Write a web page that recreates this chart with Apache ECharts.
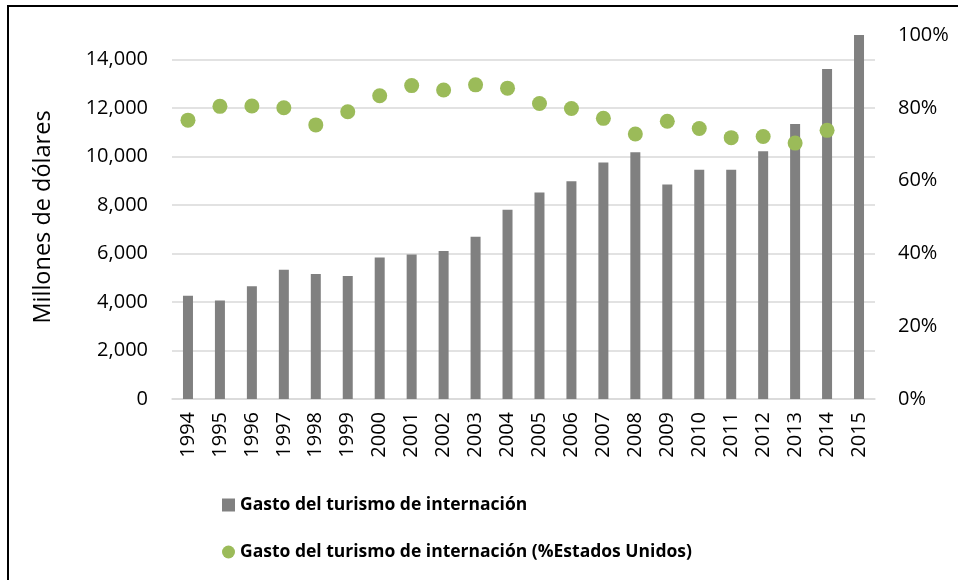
<!DOCTYPE html>
<html>
<head>
<meta charset="utf-8">
<script src="https://cdn.jsdelivr.net/npm/echarts@6/dist/echarts.min.js"></script>
<style>
html,body{margin:0;padding:0;background:#fff;}
#main{width:958px;height:580px;}
</style>
</head>
<body>
<div id="main"></div>
<script>
const years = ['1994','1995','1996','1997','1998','1999','2000','2001','2002','2003','2004','2005','2006','2007','2008','2009','2010','2011','2012','2013','2014','2015'];
const gasto = [4250,4060,4650,5330,5150,5070,5830,5950,6100,6690,7800,8510,8970,9750,10170,8840,9450,9450,10210,11330,13600,15000];
const pctEEUU = [0.766,0.804,0.805,0.800,0.753,0.789,0.833,0.861,0.849,0.863,0.854,0.812,0.798,0.771,0.728,0.763,0.743,0.718,0.721,0.703,0.738,null];
const seriesNames = ['Gasto del turismo de internación','Gasto del turismo de internación (%Estados Unidos)'];
const yAxisTitle = 'Millones de dólares';

const FONT = 'Open Sans';
const chart = echarts.init(document.getElementById('main'));
chart.setOption({
  backgroundColor: '#ffffff',
  animation: false,
  textStyle: {fontFamily: FONT},
  grid: {left: 172, right: 83, top: 35, bottom: 181, containLabel: false},
  graphic: [
    {type: 'polyline', shape: {points: [[8, 580], [8, 6], [958, 6]]}, style: {stroke: '#000', lineWidth: 2, fill: null}, z: 10}
  ],
  legend: {
    orient: 'vertical',
    left: 217,
    top: 491,
    itemGap: 29,
    itemWidth: 13,
    itemHeight: 13,
    textStyle: {fontFamily: FONT, fontWeight: 'bold', fontSize: 17.5, color: '#000'},
    data: [
      {name: seriesNames[0], icon: 'rect'},
      {name: seriesNames[1], icon: 'circle'}
    ]
  },
  xAxis: {
    type: 'category',
    data: years,
    axisLine: {lineStyle: {color: '#d9d9d9', width: 1.5}},
    axisTick: {show: false},
    axisLabel: {rotate: 90, margin: 13, fontSize: 20, color: '#000', fontFamily: FONT, interval: 0}
  },
  yAxis: [
    {
      type: 'value',
      min: 0, max: 15000, interval: 2000,
      name: yAxisTitle,
      nameLocation: 'middle',
      nameGap: 117,
      nameTextStyle: {fontSize: 23.5, color: '#000', fontFamily: FONT},
      axisLine: {show: false},
      axisTick: {show: false},
      axisLabel: {
        margin: 24, fontSize: 20, color: '#000', fontFamily: FONT,
        formatter: v => v > 14000 ? '' : v.toLocaleString('en-US')
      },
      splitLine: {lineStyle: {color: ['#d9d9d9','#d9d9d9','#d9d9d9','#d9d9d9','#d9d9d9','#d9d9d9','#d9d9d9','#d9d9d9','rgba(0,0,0,0)'], width: 1.5}}
    },
    {
      type: 'value',
      min: 0, max: 1, interval: 0.2,
      position: 'right',
      axisLine: {show: false},
      axisTick: {show: false},
      splitLine: {show: false},
      axisLabel: {
        margin: 23, fontSize: 20, color: '#000', fontFamily: FONT,
        formatter: v => Math.round(v * 100) + '%'
      }
    }
  ],
  series: [
    {
      name: seriesNames[0],
      type: 'bar',
      data: gasto,
      barWidth: 10,
      itemStyle: {color: '#808080'},
      yAxisIndex: 0
    },
    {
      name: seriesNames[1],
      type: 'scatter',
      data: pctEEUU,
      yAxisIndex: 1,
      symbol: 'circle',
      symbolSize: 15,
      itemStyle: {color: '#9bbb59', opacity: 1},
      z: 3
    }
  ]
});
</script>
</body>
</html>
